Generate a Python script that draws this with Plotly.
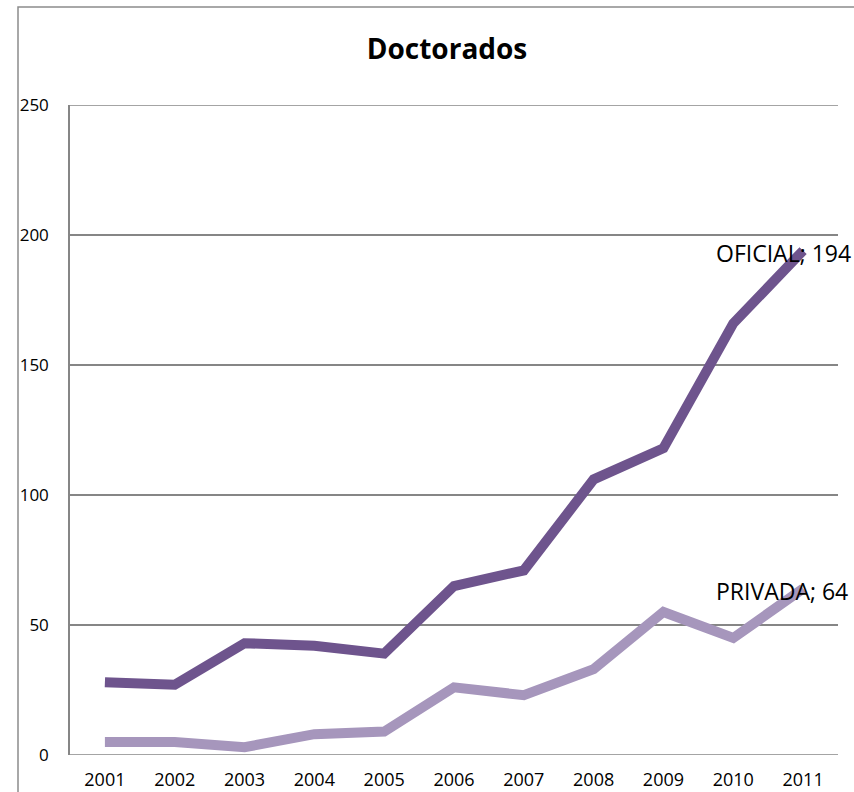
import plotly.graph_objects as go

years = ["2001", "2002", "2003", "2004", "2005", "2006", "2007", "2008", "2009", "2010", "2011"]
oficial = [28, 27, 43, 42, 39, 65, 71, 106, 118, 166, 194]
privada = [5, 5, 3, 8, 9, 26, 23, 33, 55, 45, 64]
y_ticks = [0, 50, 100, 150, 200, 250]

W, H = 854, 792
L, R, T, B = 70, 16, 105, 37
pw, ph = W - L - R, H - T - B

col_of = "rgb(110,84,141)"
col_pr = "rgb(166,150,188)"
grid_col = "#868686"
font_main = "Open Sans"

fig = go.Figure()
fig.add_trace(go.Scatter(x=years, y=privada, mode="lines", name="PRIVADA",
                         line=dict(color=col_pr, width=10), cliponaxis=False))
fig.add_trace(go.Scatter(x=years, y=oficial, mode="lines", name="OFICIAL",
                         line=dict(color=col_of, width=10), cliponaxis=False))

# value labels next to the last point of each series
last = len(years) - 1
for name, vals in (("OFICIAL", oficial), ("PRIVADA", privada)):
    fig.add_annotation(x=last, y=vals[-1], xref="x", yref="y",
                       text=f"{name}; {vals[-1]}",
                       showarrow=False, xanchor="left", yanchor="middle",
                       xshift=-89, yshift=-2,
                       font=dict(family=font_main, size=23, color="black"))

# grid lines at the edges of the value range
for v in (y_ticks[0], y_ticks[-1]):
    fig.add_shape(type="line", xref="paper", yref="y", x0=0, x1=1, y0=v, y1=v,
                  line=dict(color=grid_col, width=1.5), layer="below")

# outer chart border
px = lambda v: (v - L) / pw
py = lambda v: (H - B - v) / ph
fig.add_shape(type="rect", xref="paper", yref="paper",
              x0=px(18), y0=py(7), x1=px(W + 20), y1=py(H + 20),
              line=dict(color="#8c8c8c", width=1.5), layer="below")

fig.update_layout(
    width=W, height=H,
    margin=dict(l=L, r=R, t=T, b=B, autoexpand=False),
    paper_bgcolor="white", plot_bgcolor="white",
    showlegend=False,
    title=dict(text="<b>Doctorados</b>", x=447 / W, xanchor="center",
               y=1 - 49 / H, yanchor="middle",
               font=dict(family=font_main, size=28, color="black")),
    font=dict(family=font_main, size=17, color="black"),
)
fig.update_xaxes(type="category", range=[-0.5, 10.5], showgrid=False,
                 showline=False, ticks="outside", ticklen=8,
                 tickcolor="rgba(0,0,0,0)", tickfont=dict(size=18),
                 zeroline=False, automargin=False)
fig.update_yaxes(range=[0, 250], tickvals=y_ticks, showgrid=True,
                 gridcolor=grid_col, gridwidth=1.5, showline=True,
                 linecolor=grid_col, linewidth=1.5, ticks="outside",
                 ticklen=16, tickcolor="rgba(0,0,0,0)",
                 tickfont=dict(size=17), zeroline=False, automargin=False)

fig.write_html("out.html")
